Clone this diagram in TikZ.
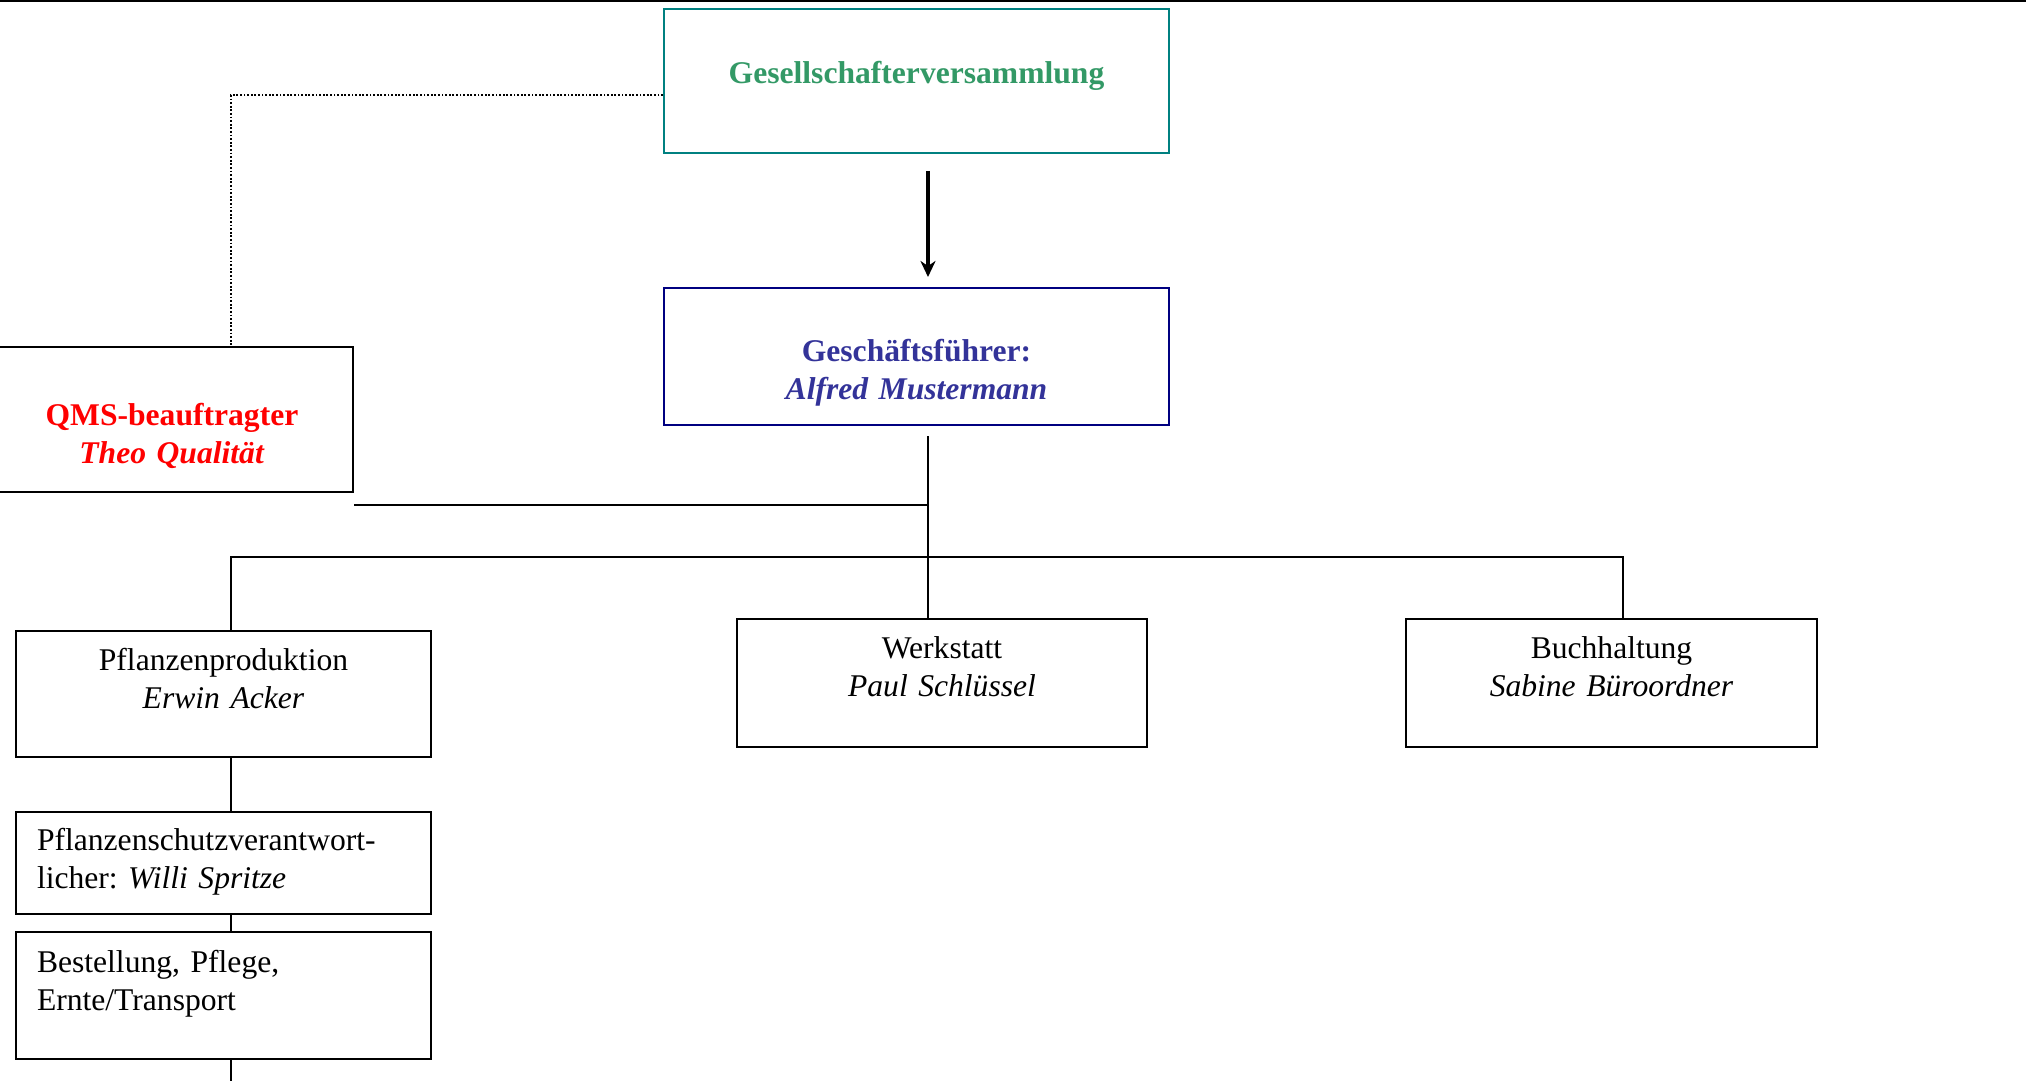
\documentclass[tikz,border=0pt]{standalone}
\usepackage{fontspec}
\setmainfont{Liberation Serif}
\usetikzlibrary{calc, arrows.meta}
\definecolor{gvgreen}{HTML}{339966}
\definecolor{gvteal}{HTML}{008080}
\definecolor{gfblue}{HTML}{333399}
\definecolor{gfnavy}{HTML}{000080}
\definecolor{qmsred}{HTML}{FF0000}
\newcommand{\BoxF}{\fontsize{15.8}{19}\selectfont}
\frenchspacing

\begin{document}
\begin{tikzpicture}[x=0.5pt, y=-0.5pt,
    orgbox/.style={draw, line width=1pt, inner sep=0pt, anchor=north west,
                   font=\BoxF, align=center},
    orgline/.style={line width=1.1pt},
    qmslink/.style={line width=0.9pt, dash pattern=on 0.9pt off 0.9pt}]
  \useasboundingbox (0,0) rectangle (2026,1081);
  \draw[line width=1.2pt] (0,1) -- (2026,1);

  % Leitung
  \node[orgbox, draw=gvteal, text=gvgreen, text width=252.5pt,
        text height=37.5pt, text depth=34.5pt] (gv) at (663,8)
        {\textbf{Gesellschafterversammlung}};
  \node[orgbox, draw=gfnavy, text=gfblue, text width=252.5pt,
        text height=36.5pt, text depth=32pt] (gf) at (663,287)
        {\textbf{Geschäftsführer:}\\\textbf{\textit{Alfred Mustermann}}};
  \node[orgbox, text=qmsred, text width=181pt,
        text height=39pt, text depth=33.5pt] (qms) at (-10,346)
        {\textbf{QMS-beauftragter}\\\textbf{\textit{Theo Qualität}}};

  % Bereiche
  \node[orgbox, text width=207.5pt, text height=19.5pt, text depth=43.5pt]
        (pp) at (15,630) {Pflanzenproduktion\\\textit{Erwin Acker}};
  \node[orgbox, text width=205pt, text height=19.5pt, text depth=44.5pt]
        (ws) at (736,618) {Werkstatt\\\textit{Paul Schlüssel}};
  \node[orgbox, text width=205.5pt, text height=19.5pt, text depth=44.5pt]
        (bh) at (1405,618) {Buchhaltung\\\textit{Sabine Büroordner}};
  \node[orgbox, align=left, inner xsep=10.5pt, text width=186.5pt,
        text height=19pt, text depth=32pt] (psv) at (15,811)
        {Pflanzenschutzverantwort-\\licher: \textit{Willi Spritze}};
  \node[orgbox, align=left, inner xsep=10.5pt, text width=186.5pt,
        text height=20pt, text depth=43.5pt] (best) at (15,931)
        {Bestellung, Pflege,\\Ernte/Transport};

  \coordinate (axis) at (928,0);
  \coordinate (busL) at (231,557);
  \coordinate (busR) at (1623,557);
  \coordinate (more) at (231,1090);
  \coordinate (qmsjoin) at ($(qms.south east)+(0,12)$);

  \draw[qmslink] ($(gv.west)+(0,14)$) -| (qms.north -| busL);
  \draw[line width=1.8pt, -{Stealth[length=8pt, width=7.5pt, inset=2.5pt]}]
        ($(gv.south -| axis)+(0,17)$) -- ($(gf.north -| axis)+(0,-10)$);
  \draw[orgline] ($(gf.south -| axis)+(0,10)$) -- (ws.north -| axis);
  \draw[orgline] (qmsjoin) -- (qmsjoin -| axis);
  \draw[orgline] (pp.north -| busL) -- (busL) -- (busR) -- (bh.north -| busR);
  \draw[orgline] (pp.south -| busL) -- (psv.north -| busL)
                 (psv.south -| busL) -- (best.north -| busL)
                 (best.south -| busL) -- (more);
\end{tikzpicture}
\end{document}
